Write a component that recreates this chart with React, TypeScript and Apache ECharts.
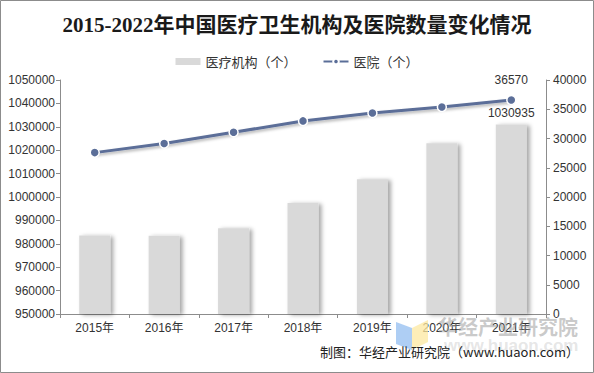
import React, { useEffect, useRef } from "react";
import * as echarts from "echarts";

const years = ["2015年", "2016年", "2017年", "2018年", "2019年", "2020年", "2021年"];
const institutions = [983528, 983394, 986649, 997433, 1007579, 1022922, 1030935];
const hospitals = [27587, 29140, 31056, 33009, 34354, 35394, 36570];
const leftTicks = { min: 950000, max: 1050000, interval: 10000 };
const rightTicks = { min: 0, max: 40000, interval: 5000 };

export default function App() {
  const ref = useRef<HTMLDivElement>(null);
  useEffect(() => {
    document.body.style.margin = "0";
    const chart = echarts.init(ref.current!, null, { renderer: "svg" });
    const lastIdx = years.length - 1;
    const plain = (v: number) => String(v);
    chart.setOption({
      animation: false,
      backgroundColor: "#fff",
      title: {
        text: "2015-2022年中国医疗卫生机构及医院数量变化情况",
        left: "center",
        top: 9,
        textStyle: {
          fontFamily: "'Liberation Serif', 'Noto Sans CJK SC', serif",
          fontSize: 21,
          fontWeight: "bold",
          color: "#1a1a1a",
        },
      },
      legend: {
        top: 50,
        left: "center",
        itemGap: 26,
        itemWidth: 25,
        itemHeight: 7,
        textStyle: { fontSize: 13, color: "#333", fontFamily: "'Noto Sans CJK SC', sans-serif" },
        data: [
          { name: "医疗机构（个）", icon: "rect" },
          { name: "医院（个）" },
        ],
      },
      grid: { left: 60, right: 48, top: 80, bottom: 59 },
      xAxis: {
        type: "category",
        data: years,
        axisLine: { lineStyle: { color: "#8c8c8c" } },
        axisTick: { show: true, length: 4, lineStyle: { color: "#8c8c8c" } },
        axisLabel: { color: "#333", fontSize: 12, margin: 8, fontFamily: "'Liberation Sans', 'Noto Sans CJK SC', sans-serif" },
      },
      yAxis: [
        {
          type: "value",
          min: leftTicks.min,
          max: leftTicks.max,
          interval: leftTicks.interval,
          splitLine: { show: false },
          axisLine: { show: true, lineStyle: { color: "#8c8c8c" } },
          axisTick: { show: true, length: 4, lineStyle: { color: "#8c8c8c" } },
          axisLabel: { color: "#333", fontSize: 12, margin: 5, formatter: plain, fontFamily: "'Liberation Sans', sans-serif" },
        },
        {
          type: "value",
          min: rightTicks.min,
          max: rightTicks.max,
          interval: rightTicks.interval,
          splitLine: { show: false },
          axisLine: { show: true, lineStyle: { color: "#8c8c8c" } },
          axisTick: { show: true, length: 4, lineStyle: { color: "#8c8c8c" } },
          axisLabel: { color: "#333", fontSize: 12, margin: 7, formatter: plain, fontFamily: "'Liberation Sans', sans-serif" },
        },
      ],
      series: [
        {
          name: "医疗机构（个）",
          type: "bar",
          yAxisIndex: 0,
          barWidth: 31,
          data: institutions.map((v, i) => ({
            value: v,
            label: i === lastIdx ? {
              show: true,
              position: "top",
              distance: 6,
              color: "#333",
              fontSize: 12,
              fontFamily: "'Liberation Sans', sans-serif",
            } : { show: false },
          })),
          itemStyle: {
            color: "#d9d9d9",
            shadowColor: "rgba(0,0,0,0.35)",
            shadowBlur: 4,
            shadowOffsetX: 3,
            shadowOffsetY: 1,
          },
        },
        {
          name: "医院（个）",
          type: "line",
          yAxisIndex: 1,
          data: hospitals.map((v, i) => ({
            value: v,
            label: i === lastIdx ? {
              show: true,
              position: "top",
              distance: 9,
              color: "#333",
              fontSize: 12,
              fontFamily: "'Liberation Sans', sans-serif",
            } : { show: false },
          })),
          symbol: "circle",
          symbolSize: 9,
          lineStyle: {
            color: "#5b6e98",
            width: 3,
            shadowColor: "rgba(0,0,0,0.3)",
            shadowBlur: 3,
            shadowOffsetY: 2,
          },
          itemStyle: {
            color: "#5b6e98",
            borderColor: "#fff",
            borderWidth: 1.5,
          },
          z: 5,
        },
      ],
      graphic: [
        {
          type: "rect",
          shape: { x: 0.5, y: 0.5, width: 593, height: 372 },
          style: { fill: "none", stroke: "#8c8c8c", lineWidth: 1 },
          silent: true,
          z: -1,
        },
        {
          type: "polygon",
          shape: { points: [[396, 322], [412, 328], [412, 350], [396, 344]] },
          style: { fill: "rgba(140,185,240,0.7)" },
          z: 10,
        },
        {
          type: "polygon",
          shape: { points: [[412, 328], [428, 320], [428, 342], [412, 350]] },
          style: { fill: "rgba(252,232,160,0.75)" },
          z: 10,
        },
        {
          type: "text",
          x: 438,
          y: 316,
          style: {
            text: "华经产业研究院",
            fontSize: 20,
            fontWeight: "bold",
            fill: "rgba(150,150,150,0.5)",
            fontFamily: "'Noto Sans CJK SC', sans-serif",
          },
          z: 10,
        },
        {
          type: "text",
          x: 444,
          y: 337,
          style: {
            text: "www.huaon.com",
            fontSize: 17,
            fontWeight: "bold",
            fill: "rgba(170,170,170,0.3)",
            fontFamily: "'Liberation Sans', sans-serif",
          },
          z: 10,
        },
        {
          type: "text",
          right: 15,
          top: 345,
          style: {
            text: "制图：华经产业研究院（www.huaon.com）",
            fontSize: 13,
            fill: "#222",
            fontFamily: "'Noto Sans CJK SC', sans-serif",
          },
          z: 11,
        },
      ],
    });
    return () => chart.dispose();
  }, []);
  return <div ref={ref} style={{ width: 594, height: 373 }} />;
}
